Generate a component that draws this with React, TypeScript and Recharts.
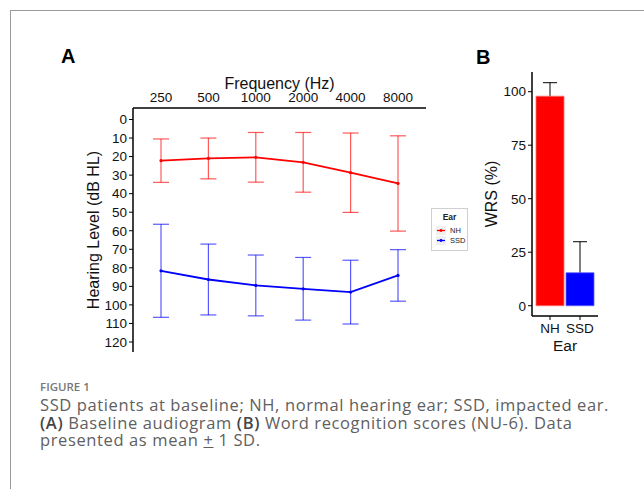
import React from 'react';
import {
  Bar,
  BarChart,
  Cell,
  ErrorBar,
  Line,
  LineChart,
  XAxis,
  YAxis,
} from 'recharts';

const frequencies = ['250', '500', '1000', '2000', '4000', '8000'];
const nhMean = [22.2, 21.0, 20.4, 23.1, 28.7, 34.5];
const nhSd = [11.7, 11.0, 13.4, 16.1, 21.4, 25.7];
const ssdMean = [81.6, 86.3, 89.5, 91.3, 93.1, 84.1];
const ssdSd = [25.1, 19.1, 16.4, 16.9, 17.2, 13.9];
const hlTicks = [0, 10, 20, 30, 40, 50, 60, 70, 80, 90, 100, 110, 120];

const ears = ['NH', 'SSD'];
const earColors = ['#ff0000', '#0000ff'];
const wrsMean = [97.9, 15.4];
const wrsSd = [6.3, 14.5];
const wrsTicks = [0, 25, 50, 75, 100];

const FONT = '"Liberation Sans", Arial, Helvetica, sans-serif';

const audioData = frequencies.map((freq, i) => ({
  freq,
  nh: nhMean[i],
  nhSd: nhSd[i],
  ssd: ssdMean[i],
  ssdSd: ssdSd[i],
}));

const wrsData = ears.map((ear, i) => ({ ear, wrs: wrsMean[i], sd: wrsSd[i] }));

const tickStyle = { fill: '#111', fontSize: 13.5, fontFamily: FONT };
const axisStroke = { stroke: '#000', strokeWidth: 1.5 };

function LegendKey({ color }: { color: string }) {
  return (
    <svg width={10} height={9} style={{ background: '#f0f0f0', display: 'block' }}>
      <line x1={1} x2={9} y1={4.5} y2={4.5} stroke={color} strokeWidth={1.3} />
      <circle cx={5} cy={4.5} r={1.4} fill={color} />
    </svg>
  );
}

// panel B is drawn twice on top of each other so the bars cover the lower half of the error bars
function WrsChart({ layer }: { layer: 'under' | 'over' }) {
  const under = layer === 'under';
  return (
    <BarChart width={204} height={380} data={wrsData} margin={{ top: 72, right: 46, bottom: 6, left: 11 }}>
      <XAxis
        dataKey="ear"
        padding={{ left: 3, right: 3 }}
        height={58}
        tickSize={4}
        tickMargin={3}
        tick={under ? tickStyle : false}
        tickLine={under ? { stroke: '#000' } : false}
        axisLine={under ? axisStroke : false}
        label={under ? { value: 'Ear', position: 'center', fill: '#111', fontSize: 15.5, fontFamily: FONT } : undefined}
      />
      <YAxis
        type="number"
        domain={[-4.8, 109.2]}
        allowDataOverflow
        ticks={wrsTicks}
        interval={0}
        width={81}
        tickSize={4}
        tickMargin={2}
        tick={under ? tickStyle : false}
        tickLine={under ? { stroke: '#000' } : false}
        axisLine={under ? axisStroke : false}
        label={
          under
            ? { value: 'WRS (%)', angle: -90, position: 'center', fill: '#111', fontSize: 16, fontFamily: FONT }
            : undefined
        }
      />
      {under ? (
        <Bar dataKey="wrs" barSize={28} fill="transparent" isAnimationActive={false}>
          <ErrorBar dataKey="sd" width={7} stroke="#000" strokeWidth={1} />
        </Bar>
      ) : (
        <Bar dataKey="wrs" barSize={28} isAnimationActive={false}>
          {ears.map((ear, i) => (
            <Cell key={ear} fill={earColors[i]} stroke={i === 0 ? '#ff6b6b' : '#5b5bff'} strokeWidth={0.8} />
          ))}
        </Bar>
      )}
    </BarChart>
  );
}

export default function App() {
  return (
    <div
      style={{
        position: 'absolute',
        left: 0,
        top: 0,
        width: 644,
        height: 489,
        background: '#fff',
        overflow: 'hidden',
        fontFamily: FONT,
      }}
    >
      <div
        style={{
          position: 'absolute',
          left: 10,
          top: 10,
          width: 640,
          height: 485,
          borderTop: '1px solid #9a9a9a',
          borderLeft: '1px solid #9a9a9a',
        }}
      />

      <div style={{ position: 'absolute', left: 61, top: 45, fontSize: 20, fontWeight: 700 }}>A</div>
      <div style={{ position: 'absolute', left: 476, top: 46, fontSize: 20, fontWeight: 700 }}>B</div>

      {/* panel A: audiogram */}
      <div style={{ position: 'absolute', left: 0, top: 0 }}>
        <LineChart
          width={440}
          height={360}
          data={audioData}
          margin={{ top: 58, right: 14, bottom: 8, left: 53 }}
        >
          <XAxis
            dataKey="freq"
            orientation="top"
            scale="point"
            padding={{ left: 28, right: 28 }}
            height={50}
            tickLine={false}
            tickSize={4}
            tickMargin={2}
            tick={tickStyle}
            axisLine={axisStroke}
            label={{
              value: 'Frequency (Hz)',
              position: 'center',
              fill: '#111',
              fontSize: 16,
              fontFamily: FONT,
            }}
          />
          <YAxis
            type="number"
            reversed
            domain={[-6.2, 125.4]}
            allowDataOverflow
            ticks={hlTicks}
            interval={0}
            width={80}
            tickSize={4}
            tickMargin={2}
            tick={tickStyle}
            tickLine={{ stroke: '#000' }}
            axisLine={axisStroke}
            label={{
              value: 'Hearing Level (dB HL)',
              angle: -90,
              position: 'center',
              fill: '#111',
              fontSize: 16,
              fontFamily: FONT,
            }}
          />
          <Line
            dataKey="nh"
            stroke="#ff0000"
            strokeWidth={1.8}
            dot={{ r: 1.6, fill: '#ff0000', stroke: 'none' }}
            isAnimationActive={false}
          >
            <ErrorBar dataKey="nhSd" width={8} stroke="#ff0000" strokeOpacity={0.65} strokeWidth={1.2} />
          </Line>
          <Line
            dataKey="ssd"
            stroke="#0000ff"
            strokeWidth={1.8}
            dot={{ r: 1.6, fill: '#0000ff', stroke: 'none' }}
            isAnimationActive={false}
          >
            <ErrorBar dataKey="ssdSd" width={8} stroke="#0000ff" strokeOpacity={0.65} strokeWidth={1.2} />
          </Line>
        </LineChart>
      </div>

      {/* legend */}
      <div
        style={{
          position: 'absolute',
          left: 431,
          top: 208,
          width: 37,
          height: 43,
          border: '1px solid #cfcfcf',
          boxSizing: 'border-box',
          fontSize: 7.5,
          color: '#222',
        }}
      >
        <div style={{ fontWeight: 700, fontSize: 8.5, textAlign: 'center', marginTop: 3, marginBottom: 3 }}>
          Ear
        </div>
        {ears.map((ear, i) => (
          <div key={ear} style={{ display: 'flex', alignItems: 'center', marginLeft: 4, height: 10 }}>
            <LegendKey color={earColors[i]} />
            <span style={{ marginLeft: 4 }}>{ear}</span>
          </div>
        ))}
      </div>

      {/* panel B: word recognition */}
      <div style={{ position: 'absolute', left: 440, top: 0 }}>
        <WrsChart layer="under" />
      </div>
      <div style={{ position: 'absolute', left: 440, top: 0 }}>
        <WrsChart layer="over" />
      </div>

      {/* caption */}
      <div style={{ position: 'absolute', left: 40, top: 379, fontFamily: '"Open Sans", sans-serif', color: '#666' }}>
        <div style={{ fontSize: 11.5, fontWeight: 600, color: '#777', lineHeight: '15px' }}>FIGURE 1</div>
        <div
          style={{
            fontSize: 16.5,
            letterSpacing: 0.62,
            lineHeight: '17.6px',
            color: '#606060',
            marginTop: 2,
            width: 600,
          }}
        >
          <div style={{ whiteSpace: 'nowrap' }}>SSD patients at baseline; NH, normal hearing ear; SSD, impacted ear.</div>
          <div style={{ whiteSpace: 'nowrap' }}>
            <b style={{ color: '#444', fontWeight: 600 }}>(A)</b> Baseline audiogram{' '}
            <b style={{ color: '#444', fontWeight: 600 }}>(B)</b> Word recognition scores (NU-6). Data
          </div>
          <div style={{ whiteSpace: 'nowrap' }}>
            presented as mean <span style={{ textDecoration: 'underline' }}>+</span> 1 SD.
          </div>
        </div>
      </div>
    </div>
  );
}
